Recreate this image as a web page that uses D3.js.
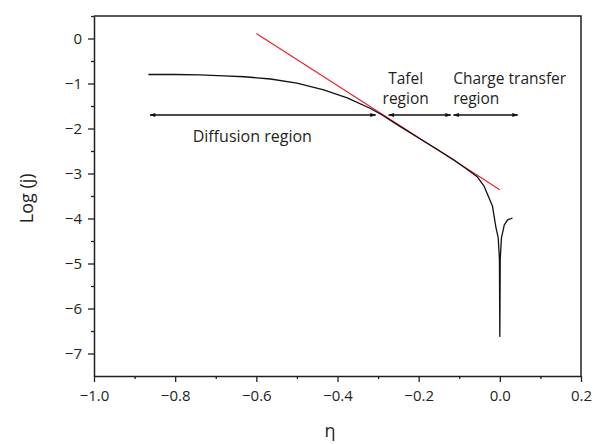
<!DOCTYPE html>
<html>
<head>
<meta charset="utf-8">
<script src="https://cdn.jsdelivr.net/npm/d3@7"></script>
<style>
  body { margin: 0; background: #fff; }
  text { font-family: "Open Sans", sans-serif; fill: #231f20; }
</style>
</head>
<body>
<svg id="chart" width="594" height="444"></svg>
<script>
// measured curve, log(j) against overpotential
var curveEta  = [-0.866, -0.80, -0.74, -0.68, -0.63, -0.565, -0.50, -0.434, -0.376, -0.32, -0.29,
                 -0.25, -0.20, -0.15, -0.113, -0.08, -0.055, -0.039, -0.018, -0.010, -0.004,
                 -0.001, 0.000, 0.001, 0.004, 0.011, 0.019, 0.031];
var curveLogJ = [-0.80, -0.80, -0.81, -0.83, -0.85, -0.90, -0.99, -1.14, -1.32, -1.55, -1.70,
                 -1.93, -2.21, -2.49, -2.70, -2.91, -3.08, -3.28, -3.73, -4.18, -4.43,
                 -4.90, -6.62, -4.90, -4.43, -4.14, -4.03, -3.99];

// tafel fit line (red)
var tafelEta  = [-0.60, 0.00];
var tafelLogJ = [0.11, -3.36];

var xTicks = [-1.0, -0.8, -0.6, -0.4, -0.2, 0.0, 0.2];
var yTicks = [-7, -6, -5, -4, -3, -2, -1, 0];

// region arrows
var regionNames = [["Diffusion region"], ["Tafel", "region"], ["Charge transfer", "region"]];
var regionFrom  = [-0.862, -0.274, -0.114];
var regionTo    = [-0.306, -0.121, 0.044];
var arrowLogJ   = -1.70;

var svg = d3.select("#chart");
var mLeft = 94, mRight = 581, mTop = 16, mBottom = 376;

var x = d3.scaleLinear().domain([-1.0, 0.2]).range([mLeft, mRight]);
var y = d3.scaleLinear().domain([-7.5, 0.5]).range([mBottom, mTop]);

var fmt = function(d, digits){
  var s = Math.abs(d).toFixed(digits);
  return (d < -1e-9 ? "\u2212" : "") + s;
};

// minor ticks first
svg.append("g").attr("transform", "translate(0," + mBottom + ")")
  .call(d3.axisBottom(x).tickValues([-0.9, -0.7, -0.5, -0.3, -0.1, 0.1]).tickSize(3).tickFormat(""))
  .call(function(g){ g.select(".domain").remove(); });
svg.append("g").attr("transform", "translate(" + mLeft + ",0)")
  .call(d3.axisLeft(y).tickValues([-6.5, -5.5, -4.5, -3.5, -2.5, -1.5, -0.5, 0.5]).tickSize(3).tickFormat(""))
  .call(function(g){ g.select(".domain").remove(); });

var xAxis = svg.append("g").attr("transform", "translate(0," + mBottom + ")")
  .call(d3.axisBottom(x).tickValues(xTicks).tickSize(6).tickSizeOuter(0)
    .tickFormat(function(d){ return fmt(d, 1); }));
var yAxis = svg.append("g").attr("transform", "translate(" + mLeft + ",0)")
  .call(d3.axisLeft(y).tickValues(yTicks).tickSize(6).tickSizeOuter(0)
    .tickFormat(function(d){ return fmt(d, 0); }));

svg.selectAll(".tick line").attr("stroke", "#231f20").attr("stroke-width", 1.3);
svg.selectAll(".domain").attr("stroke", "#231f20").attr("stroke-width", 1.5);
xAxis.selectAll("text").attr("font-size", 15).attr("dy", "1.05em");
yAxis.selectAll("text").attr("font-size", 15).attr("dx", "-0.2em");

// top and right frame
svg.append("path")
  .attr("d", "M" + mLeft + "," + mTop + "H" + mRight + "V" + mBottom)
  .attr("fill", "none").attr("stroke", "#231f20").attr("stroke-width", 1.5);

// axis titles
svg.append("text").attr("x", 330).attr("y", 437).attr("text-anchor", "middle")
  .attr("font-size", 18).text("\u03b7");
svg.append("text").attr("transform", "translate(33," + y(-3.55) + ") rotate(-90)")
  .attr("text-anchor", "middle").attr("font-size", 18).text("Log (j)");

// arrow marker
svg.append("defs").append("marker")
  .attr("id", "head").attr("viewBox", "0 0 10 10").attr("refX", 9).attr("refY", 5)
  .attr("markerWidth", 8).attr("markerHeight", 6).attr("markerUnits", "userSpaceOnUse")
  .attr("orient", "auto-start-reverse")
  .append("path").attr("d", "M0,1.5L10,5L0,8.5Z").attr("fill", "#111");

var line = d3.line().x(function(d){ return x(d[0]); }).y(function(d){ return y(d[1]); });

// red tafel line
svg.append("path")
  .datum(d3.zip(tafelEta, tafelLogJ))
  .attr("d", line).attr("fill", "none").attr("stroke", "#ee1c25").attr("stroke-width", 1.1);

// black curve
svg.append("path")
  .datum(d3.zip(curveEta, curveLogJ))
  .attr("d", line).attr("fill", "none").attr("stroke", "#111").attr("stroke-width", 1.3)
  .attr("stroke-linejoin", "round");

// region arrows
regionNames.forEach(function(lines, i){
  svg.append("line")
    .attr("x1", x(regionFrom[i])).attr("x2", x(regionTo[i]))
    .attr("y1", y(arrowLogJ)).attr("y2", y(arrowLogJ))
    .attr("stroke", "#111").attr("stroke-width", 1.3)
    .attr("marker-start", "url(#head)").attr("marker-end", "url(#head)");
});

// region labels, one text per line
svg.append("text").attr("x", x(-0.61)).attr("y", y(arrowLogJ) + 27)
  .attr("text-anchor", "middle").attr("font-size", 16).text(regionNames[0][0]);

var labelX = [null, x(-0.232), x(-0.115)];
[1, 2].forEach(function(i){
  regionNames[i].forEach(function(s, k){
    svg.append("text").attr("font-size", 15.5)
      .attr("x", labelX[i])
      .attr("y", y(arrowLogJ) - 31 + k * 20)
      .attr("text-anchor", i === 1 ? "middle" : "start")
      .text(s);
  });
});
</script>
</body>
</html>
